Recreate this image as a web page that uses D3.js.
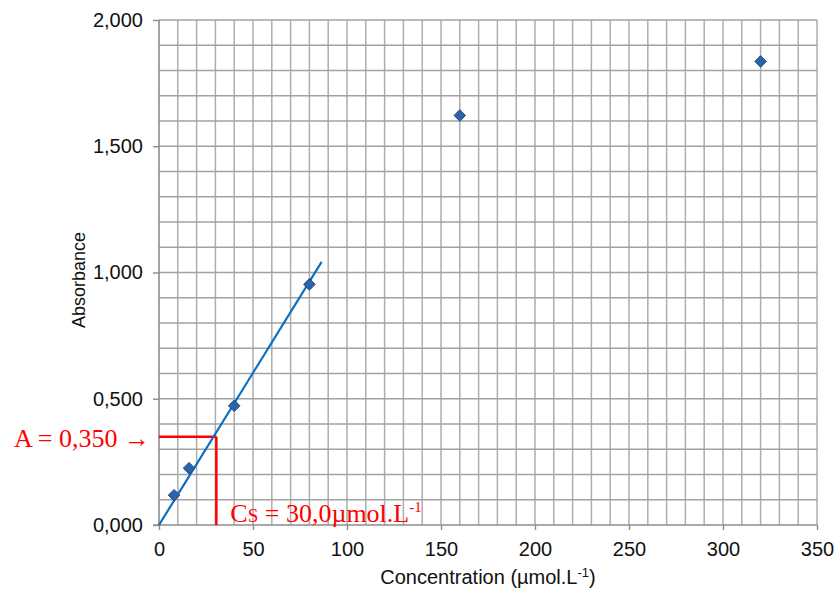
<!DOCTYPE html>
<html>
<head>
<meta charset="utf-8">
<script src="https://cdn.jsdelivr.net/npm/d3@7"></script>
<style>
  body { margin: 0; background: #fff; }
  text { font-family: Arial, "Liberation Sans", sans-serif; }
</style>
</head>
<body>
<div id="chart"></div>
<script>
// measured points
var concentration = [8, 16, 40, 80, 160, 320];
var absorbance = [0.118, 0.225, 0.472, 0.953, 1.622, 1.836];

// fitted line (through origin), drawn up to ~86
var fitX = [0, 86.5];
var fitSlope = 0.01205;

// annotation
var aValue = 0.350;
var cValue = 30.5;

var xTicks = [0, 50, 100, 150, 200, 250, 300, 350];
var yTicks = [0, 0.5, 1.0, 1.5, 2.0];

var svgWidth = 836;
var svgHeight = 592;

var margin = { top: 20, right: 19, bottom: 67, left: 159 };
var width = svgWidth - margin.left - margin.right;
var height = svgHeight - margin.top - margin.bottom;

var svg = d3.select("#chart")
  .append("svg")
  .attr("width", svgWidth)
  .attr("height", svgHeight);

var chartGroup = svg.append("g")
  .attr("transform", `translate(${margin.left}, ${margin.top})`);

var x = d3.scaleLinear().domain([0, 350]).range([0, width]);
var y = d3.scaleLinear().domain([0, 2]).range([height, 0]);

var fmt = function (d) { return d3.format(".3f")(d).replace(".", ","); };

// grid lines
chartGroup.append("g")
  .selectAll("line")
  .data(d3.range(10, 351, 10))
  .enter()
  .append("line")
  .attr("x1", d => x(d)).attr("x2", d => x(d))
  .attr("y1", 0).attr("y2", height)
  .attr("stroke", "#adadad")
  .attr("stroke-width", 1.5);

chartGroup.append("g")
  .selectAll("line")
  .data(d3.range(1, 21).map(d => d / 10))
  .enter()
  .append("line")
  .attr("x1", 0).attr("x2", width)
  .attr("y1", d => y(d)).attr("y2", d => y(d))
  .attr("stroke", "#a2a2a2")
  .attr("stroke-width", 1.5);

// axes
var bottomAxis = d3.axisBottom(x).tickValues(xTicks).tickSize(5).tickPadding(12);
var leftAxis = d3.axisLeft(y).tickValues(yTicks).tickFormat(fmt).tickSize(6).tickPadding(10);

var xAxis = chartGroup.append("g")
  .attr("transform", `translate(0, ${height})`)
  .call(bottomAxis);
xAxis.select(".domain").remove();
xAxis.append("line")
  .attr("x1", -6).attr("x2", width)
  .attr("stroke", "#8c8c8c").attr("stroke-width", 1.6);

var yAxis = chartGroup.append("g").call(leftAxis);
yAxis.select(".domain").remove();
yAxis.append("line")
  .attr("y1", 0).attr("y2", height)
  .attr("stroke", "#8c8c8c").attr("stroke-width", 1.6);

chartGroup.selectAll(".tick line").attr("stroke", "#8c8c8c").attr("stroke-width", 1.4);
chartGroup.selectAll(".tick text")
  .attr("fill", "#111")
  .attr("font-family", "Arial, 'Liberation Sans', sans-serif")
  .attr("font-size", 20);

// axis titles
var xTitle = chartGroup.append("text")
  .attr("x", width / 2)
  .attr("y", height + 59)
  .attr("text-anchor", "middle")
  .attr("font-size", 20)
  .attr("fill", "#111");
xTitle.append("tspan").text("Concentration (µmol.L");
xTitle.append("tspan").attr("dy", -7).attr("font-size", 13).text("-1");
xTitle.append("tspan").attr("dy", 7).text(")");

chartGroup.append("text")
  .attr("transform", "rotate(-90)")
  .attr("x", -260)
  .attr("y", -74)
  .attr("text-anchor", "middle")
  .attr("font-size", 18)
  .attr("fill", "#111")
  .text("Absorbance");

// red annotation
chartGroup.append("line")
  .attr("x1", 0).attr("x2", x(cValue))
  .attr("y1", y(aValue)).attr("y2", y(aValue))
  .attr("stroke", "#ff0000").attr("stroke-width", 2.5);
chartGroup.append("line")
  .attr("x1", x(cValue)).attr("x2", x(cValue))
  .attr("y1", y(aValue)).attr("y2", y(0))
  .attr("stroke", "#ff0000").attr("stroke-width", 2.5);

chartGroup.append("text")
  .attr("x", -9)
  .attr("y", y(aValue) + 10)
  .attr("text-anchor", "end")
  .style("font-family", "'Liberation Serif', 'DejaVu Serif', serif")
  .attr("font-size", 26)
  .attr("fill", "#ff0000")
  .text("A = " + fmt(aValue) + " \u2192");

var cLabel = chartGroup.append("text")
  .attr("x", x(cValue) + 14)
  .attr("y", y(0) - 3)
  .style("font-family", "'Liberation Serif', 'DejaVu Serif', serif")
  .attr("font-size", 26)
  .attr("fill", "#ff0000");
cLabel.append("tspan").text("C");
cLabel.append("tspan").attr("font-size", 19).text("S");
cLabel.append("tspan").text(" = " + d3.format(".1f")(cValue - 0.5).replace(".", ",") + "µmol.L");
cLabel.append("tspan").attr("dy", -10).attr("font-size", 15).text("-1");

// regression line
chartGroup.append("path")
  .datum(fitX)
  .attr("d", d3.line().x(d => x(d)).y(d => y(d * fitSlope)))
  .attr("stroke", "#0a6fc2")
  .attr("stroke-width", 2.2)
  .attr("fill", "none");

// points
chartGroup.selectAll(".pt")
  .data(concentration)
  .enter()
  .append("path")
  .attr("class", "pt")
  .attr("d", d3.symbol().type(d3.symbolDiamond2).size(85))
  .attr("transform", (d, i) => `translate(${x(d)}, ${y(absorbance[i])})`)
  .attr("fill", "#2f63a8")
  .attr("stroke", "#1d4a85")
  .attr("stroke-width", 1);
</script>
</body>
</html>
